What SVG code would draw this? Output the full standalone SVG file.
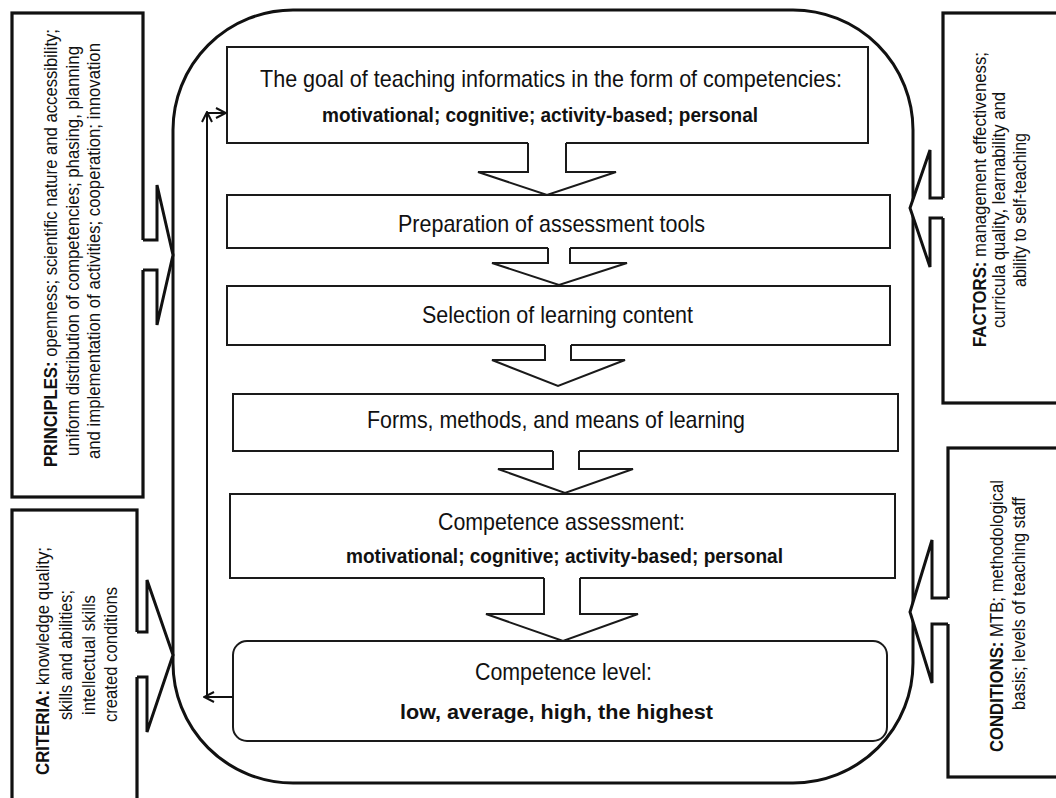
<svg xmlns="http://www.w3.org/2000/svg" width="1056" height="798" viewBox="0 0 1056 798">
<style>
.t{font-family:"Liberation Sans",Arial,sans-serif;fill:#111;}
.r{font-size:24px;}
.b{font-size:20px;font-weight:bold;}
.s{font-size:19px;}
.bb{font-weight:bold;}
.box{fill:#fff;stroke:#1a1a1a;stroke-width:2;}
.side{fill:#fff;stroke:#111;stroke-width:3.2;}
.cover{fill:#fff;stroke:none;}
.ol{fill:none;stroke:#1a1a1a;stroke-width:2;stroke-linejoin:miter;}
.olt{fill:none;stroke:#111;stroke-width:3;stroke-linejoin:miter;}
.fb{fill:none;stroke:#111;stroke-width:2;}
</style>
<defs>
<marker id="open" viewBox="0 0 12 12" refX="11" refY="6" markerWidth="12" markerHeight="12" markerUnits="userSpaceOnUse" orient="auto">
<path d="M1,1 L11,6 L1,11" fill="none" stroke="#111" stroke-width="2"/>
</marker>
</defs>
<rect width="1056" height="798" fill="#fff"/>

<g id="frame">
<rect x="173" y="10" width="740" height="773" rx="120" ry="120" fill="none" stroke="#111" stroke-width="3"/>
</g>

<g id="principles">
<rect class="side" x="12" y="13" width="131" height="484"/>
<polygon class="cover" points="141,240 157,240 157,185 173,255 157,325 157,270 141,270"/>
<polyline class="olt" points="143,240 157,240 157,185 173,255 157,325 157,270 143,270"/>
<text class="t s" transform="translate(57,248) rotate(-90)" text-anchor="middle" textLength="438" lengthAdjust="spacingAndGlyphs"><tspan class="bb">PRINCIPLES:</tspan> openness; scientific nature and accessibility;</text>
<text class="t s" transform="translate(79,251) rotate(-90)" text-anchor="middle" textLength="410" lengthAdjust="spacingAndGlyphs">uniform distribution of competencies; phasing, planning</text>
<text class="t s" transform="translate(100,251) rotate(-90)" text-anchor="middle" textLength="416" lengthAdjust="spacingAndGlyphs">and implementation of activities; cooperation; innovation</text>
</g>

<g id="criteria">
<rect class="side" x="12" y="510" width="125" height="300"/>
<polygon class="cover" points="135,632 147,632 147,580 173,655 147,732 147,677 135,677"/>
<polyline class="olt" points="137,632 147,632 147,580 173,655 147,732 147,677 137,677"/>
<text class="t s" transform="translate(49,661) rotate(-90)" text-anchor="middle" textLength="228" lengthAdjust="spacingAndGlyphs"><tspan class="bb">CRITERIA:</tspan> knowledge quality;</text>
<text class="t s" transform="translate(72,655) rotate(-90)" text-anchor="middle" textLength="130" lengthAdjust="spacingAndGlyphs">skills and abilities;</text>
<text class="t s" transform="translate(95,655) rotate(-90)" text-anchor="middle" textLength="120" lengthAdjust="spacingAndGlyphs">intellectual skills</text>
<text class="t s" transform="translate(117,654.5) rotate(-90)" text-anchor="middle" textLength="135" lengthAdjust="spacingAndGlyphs">created conditions</text>
</g>

<g id="factors">
<rect class="side" x="943" y="13" width="130" height="390"/>
<polygon class="cover" points="945,198 930,198 930,150 910,208 930,267 930,218 945,218"/>
<polyline class="olt" points="943,198 930,198 930,150 910,208 930,267 930,218 943,218"/>
<text class="t s" transform="translate(986,199.5) rotate(-90)" text-anchor="middle" textLength="295" lengthAdjust="spacingAndGlyphs"><tspan class="bb">FACTORS:</tspan> management effectiveness;</text>
<text class="t s" transform="translate(1005,210) rotate(-90)" text-anchor="middle" textLength="236" lengthAdjust="spacingAndGlyphs">curricula quality, learnability and</text>
<text class="t s" transform="translate(1026,210) rotate(-90)" text-anchor="middle" textLength="154" lengthAdjust="spacingAndGlyphs">ability to self-teaching</text>
</g>

<g id="conditions">
<rect class="side" x="948" y="448" width="125" height="329"/>
<polygon class="cover" points="950,598 932,598 932,540 910,612 932,683 932,624 950,624"/>
<polyline class="olt" points="948,598 932,598 932,540 910,612 932,683 932,624 948,624"/>
<text class="t s" transform="translate(1003,616) rotate(-90)" text-anchor="middle" textLength="272" lengthAdjust="spacingAndGlyphs"><tspan class="bb">CONDITIONS:</tspan> MTB; methodological</text>
<text class="t s" transform="translate(1025,603.5) rotate(-90)" text-anchor="middle" textLength="213" lengthAdjust="spacingAndGlyphs">basis; levels of teaching staff</text>
</g>

<g id="goal">
<rect class="box" x="227" y="47" width="641" height="96"/>
<text class="t r" x="551" y="87" text-anchor="middle" textLength="582" lengthAdjust="spacingAndGlyphs">The goal of teaching informatics in the form of competencies:</text>
<text class="t b" x="540" y="122" text-anchor="middle" textLength="436" lengthAdjust="spacingAndGlyphs">motivational; cognitive; activity-based; personal</text>
</g>

<g id="preparation">
<rect class="box" x="227" y="195" width="663" height="53"/>
<text class="t r" x="551.5" y="232" text-anchor="middle" textLength="307" lengthAdjust="spacingAndGlyphs">Preparation of assessment tools</text>
</g>

<g id="selection">
<rect class="box" x="227" y="286" width="663" height="59"/>
<text class="t r" x="557.5" y="323" text-anchor="middle" textLength="271" lengthAdjust="spacingAndGlyphs">Selection of learning content</text>
</g>

<g id="forms">
<rect class="box" x="233" y="394" width="665" height="57"/>
<text class="t r" x="556" y="428" text-anchor="middle" textLength="378" lengthAdjust="spacingAndGlyphs">Forms, methods, and means of learning</text>
</g>

<g id="assessment">
<rect class="box" x="230" y="494" width="665" height="84"/>
<text class="t r" x="561.5" y="530" text-anchor="middle" textLength="247" lengthAdjust="spacingAndGlyphs">Competence assessment:</text>
<text class="t b" x="564.5" y="563" text-anchor="middle" textLength="437" lengthAdjust="spacingAndGlyphs">motivational; cognitive; activity-based; personal</text>
</g>

<g id="level">
<rect class="box" x="233" y="641" width="654" height="100" rx="14" ry="14"/>
<text class="t r" x="563.5" y="680" text-anchor="middle" textLength="177" lengthAdjust="spacingAndGlyphs">Competence level:</text>
<text class="t b" x="556.5" y="719" text-anchor="middle" font-size="23" textLength="313" lengthAdjust="spacingAndGlyphs">low, average, high, the highest</text>
</g>

<g id="connectors">
<polygon class="cover" points="528,141 528,172 478,172 547,195 616,172 566,172 566,141"/>
<polyline class="ol" points="528,143 528,172 478,172 547,195 616,172 566,172 566,143"/>
<polygon class="cover" points="548,246 548,263 492,263 559,285 627,263 570,263 570,246"/>
<polyline class="ol" points="548,248 548,263 492,263 559,285 627,263 570,263 570,248"/>
<polygon class="cover" points="545,343 545,360 492,360 558,386 625,360 571,360 571,343"/>
<polyline class="ol" points="545,345 545,360 492,360 558,386 625,360 571,360 571,345"/>
<polygon class="cover" points="553,449 553,469 498,469 565,493 633,469 579,469 579,449"/>
<polyline class="ol" points="553,451 553,469 498,469 565,493 633,469 579,469 579,451"/>
<polygon class="cover" points="544,576 544,614 486,614 563,641 638,614 580,614 580,576"/>
<polyline class="ol" points="544,578 544,614 486,614 563,641 638,614 580,614 580,578"/>
<line class="fb" x1="233" y1="697" x2="204" y2="697" marker-end="url(#open)"/>
<line class="fb" x1="207" y1="697" x2="207" y2="112" marker-end="url(#open)"/>
<line class="fb" x1="207" y1="113" x2="226" y2="113" marker-end="url(#open)"/>
</g>
</svg>
